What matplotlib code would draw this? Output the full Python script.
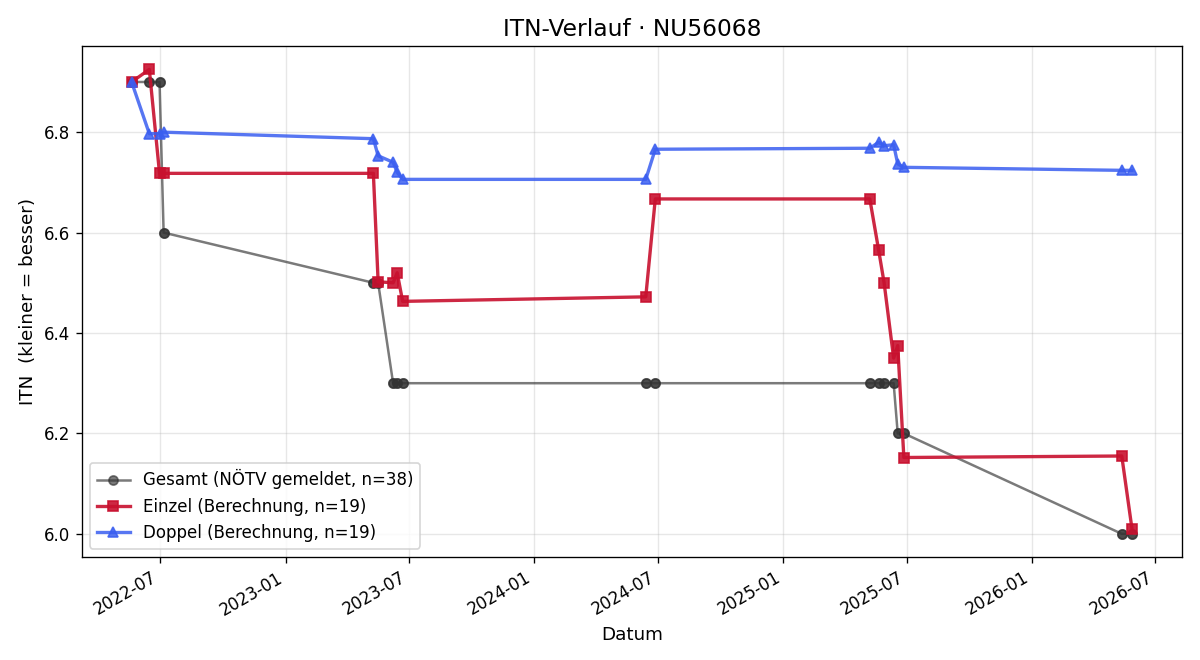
import matplotlib
matplotlib.use("Agg")
import matplotlib.pyplot as plt
import matplotlib.dates as mdates
import pandas as pd

# Spieltermine (Einzel und Doppel jeweils am selben Tag)
dates = [
    "2022-05-20", "2022-06-15", "2022-06-30", "2022-07-06",
    "2023-05-10", "2023-05-17", "2023-06-08", "2023-06-14", "2023-06-22",
    "2024-06-13", "2024-06-27",
    "2025-05-08", "2025-05-21", "2025-05-29", "2025-06-12", "2025-06-18", "2025-06-27",
    "2026-05-13", "2026-05-28",
]

einzel = [6.9, 6.925, 6.718, 6.718,
          6.718, 6.502, 6.50, 6.52, 6.463,
          6.472, 6.667,
          6.667, 6.565, 6.50, 6.35, 6.375, 6.152,
          6.155, 6.01]

doppel = [6.9, 6.797, 6.797, 6.80,
          6.787, 6.753, 6.74, 6.72, 6.706,
          6.706, 6.766,
          6.768, 6.78, 6.773, 6.775, 6.737, 6.73,
          6.724, 6.724]

# NÖTV gemeldet: je Spieltag zwei Einträge
gesamt_per_day = [6.9, 6.9, 6.9, 6.6,
                  6.5, 6.5, 6.3, 6.3, 6.3,
                  6.3, 6.3,
                  6.3, 6.3, 6.3, 6.3, 6.2, 6.2,
                  6.0, 6.0]

d = pd.to_datetime(dates)
g_dates = [x for x in d for _ in range(2)]
gesamt = [v for v in gesamt_per_day for _ in range(2)]

fig, ax = plt.subplots(figsize=(10, 5.5), dpi=120)
ax.plot(g_dates, gesamt, color="#333333", alpha=0.65, linewidth=1.5,
        marker="o", markersize=5.5, label=f"Gesamt (NÖTV gemeldet, n={len(gesamt)})")
ax.plot(d, einzel, color="#c8102e", alpha=0.9, linewidth=2.0,
        marker="s", markersize=6.5, label=f"Einzel (Berechnung, n={len(einzel)})")
ax.plot(d, doppel, color="#3a5ef0", alpha=0.85, linewidth=2.0,
        marker="^", markersize=6.5, label=f"Doppel (Berechnung, n={len(doppel)})")

ax.set_title("ITN-Verlauf · NU56068", fontsize=14)
ax.set_xlabel("Datum", fontsize=11)
ax.set_ylabel("ITN  (kleiner = besser)", fontsize=11)
ax.xaxis.set_major_locator(mdates.MonthLocator(bymonth=[1, 7]))
ax.xaxis.set_major_formatter(mdates.DateFormatter("%Y-%m"))
ax.tick_params(labelsize=10)
ax.grid(alpha=0.3)
ax.legend(loc="lower left", fontsize=10)
fig.autofmt_xdate()
fig.subplots_adjust(left=0.068, right=0.985, top=0.930, bottom=0.156)
fig.savefig("out.png")
